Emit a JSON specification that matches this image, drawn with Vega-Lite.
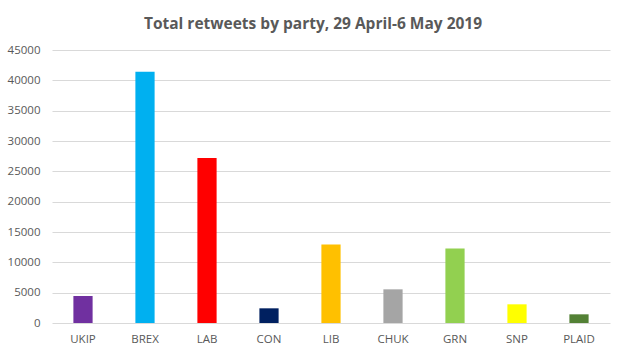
{
  "$schema": "https://vega.github.io/schema/vega-lite/v6.json",
  "autosize": "none",
  "width": 558,
  "height": 273,
  "padding": {"left": 52, "top": 50, "right": 17, "bottom": 33},
  "background": "white",
  "title": {
    "text": "Total retweets by party, 29 April-6 May 2019",
    "font": "Open Sans",
    "fontSize": 15.5,
    "fontWeight": "bold",
    "color": "#595959",
    "anchor": "middle",
    "dx": -18,
    "baseline": "alphabetic",
    "offset": 0
  },
  "data": {
    "values": [
      {"party": "UKIP", "retweets": 4450, "color": "#7030A0"},
      {"party": "BREX", "retweets": 41400, "color": "#00B0F0"},
      {"party": "LAB", "retweets": 27200, "color": "#FF0000"},
      {"party": "CON", "retweets": 2420, "color": "#002060"},
      {"party": "LIB", "retweets": 12950, "color": "#FFC000"},
      {"party": "CHUK", "retweets": 5550, "color": "#A5A5A5"},
      {"party": "GRN", "retweets": 12300, "color": "#92D050"},
      {"party": "SNP", "retweets": 3080, "color": "#FFFF00"},
      {"party": "PLAID", "retweets": 1430, "color": "#538135"}
    ]
  },
  "mark": {"type": "bar"},
  "encoding": {
    "x": {
      "field": "party",
      "type": "nominal",
      "sort": null,
      "scale": {"paddingInner": 0.69, "paddingOuter": 0.345},
      "axis": {
        "title": null,
        "labelAngle": 0,
        "ticks": false,
        "domain": false,
        "labelFont": "Open Sans",
        "labelFontSize": 11.5,
        "labelColor": "#595959",
        "labelPadding": 10
      }
    },
    "y": {
      "field": "retweets",
      "type": "quantitative",
      "scale": {"domain": [0, 45000]},
      "axis": {
        "title": null,
        "values": [0, 5000, 10000, 15000, 20000, 25000, 30000, 35000, 40000, 45000],
        "format": "d",
        "ticks": false,
        "domain": false,
        "gridColor": "#D9D9D9",
        "labelFont": "Open Sans",
        "labelFontSize": 11.5,
        "labelColor": "#595959",
        "labelPadding": 12
      }
    },
    "color": {"field": "color", "type": "nominal", "scale": null, "legend": null}
  },
  "config": {"view": {"stroke": null}}
}
